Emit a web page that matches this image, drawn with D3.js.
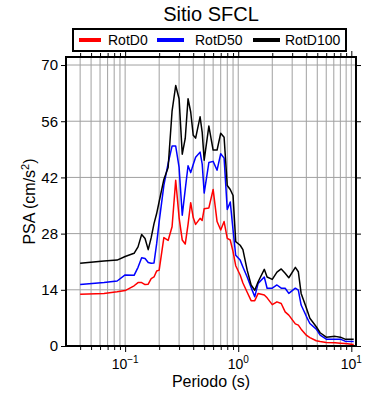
<!DOCTYPE html>
<html><head><meta charset="utf-8">
<script src="https://cdn.jsdelivr.net/npm/d3@7"></script>
<style>body{margin:0;background:#fff}svg{display:block;font-family:"Liberation Sans",Arial,Helvetica,sans-serif}</style>
</head><body><svg id="c" width="390" height="400"></svg>
<script>
const periods = [0.04,0.065,0.085,0.1,0.12,0.13,0.14,0.15,0.16,0.17,0.18,0.19,0.2,0.22,0.24,0.26,0.28,0.3,0.32,0.34,0.36,0.38,0.4,0.42,0.46,0.48,0.5,0.55,0.6,0.65,0.7,0.75,0.8,0.85,0.9,0.95,1.04,1.1,1.2,1.3,1.4,1.5,1.7,1.8,2.0,2.2,2.4,2.6,2.8,3.2,3.4,3.6,4.0,4.3,4.9,5.3,6.0,7.2,8.0,8.8,10.5];
const rotD100 = [20.6,21.2,21.4,22.3,23.1,24.7,27.8,26.8,24.0,27.0,30.5,33.0,36.0,41.5,44.5,58.5,64.9,61.6,47.8,51.7,61.6,58.3,52.5,51.8,57.1,53.3,46.3,54.8,48.8,48.8,53.0,52.0,40.0,39.0,37.5,26.0,25.1,24.0,18.9,15.2,13.9,16.0,19.1,17.2,16.6,18.4,19.2,18.1,17.0,19.6,18.5,13.1,9.5,6.9,4.8,3.3,2.2,2.4,2.2,1.7,1.7];
const rotD50 = [15.3,15.8,16.2,17.7,17.6,19.6,22.0,21.8,20.8,20.6,20.7,25.5,31.0,40.0,45.5,49.8,49.8,44.5,32.6,39.0,44.9,43.2,45.2,47.0,48.3,45.4,38.1,45.7,46.0,43.8,47.9,46.8,34.0,35.9,28.9,22.6,21.4,19.7,17.2,14.6,12.3,15.6,17.2,14.4,14.4,15.2,14.4,14.4,13.1,14.4,13.9,10.2,7.4,5.6,4.2,2.7,1.7,1.7,1.7,1.2,1.1];
const rotD0 = [12.9,13.1,13.5,13.8,15.0,15.8,15.8,15.3,15.4,16.8,17.2,18.7,18.9,27.0,26.3,29.7,41.3,32.0,26.4,25.4,30.3,35.7,32.0,30.3,31.8,31.3,34.2,34.4,39.0,31.0,28.9,31.0,26.8,26.4,23.5,20.0,17.7,15.7,13.4,11.3,11.3,13.1,12.7,12.0,10.3,11.0,10.6,8.5,7.7,5.5,5.2,4.2,2.7,2.1,1.3,1.1,0.9,0.8,0.7,0.6,0.4];
const seriesNames = ["RotD0","RotD50","RotD100"];
const seriesColors = ["#ff0000","#0000ff","#000000"];
const yTicks = [0,14,28,42,56,70];
const xMajor = [0.1,1,10];
const xMajorExp = ["\u22121","0","1"];
const title = "Sitio SFCL";
const xTitle = "Periodo (s)";

const svg = d3.select("#c");
const L=66,R=356,T=57,B=346;
const x = d3.scaleLog().domain([0.03,11]).range([L,R]);
const y = d3.scaleLinear().domain([0,72]).range([B,T]);
const minor = x.ticks().filter(v=>v>0.0301 && v<11);

// grid
const g = svg.append("g");
g.selectAll("line.vx").data(minor).join("line")
 .attr("x1",d=>x(d)).attr("x2",d=>x(d)).attr("y1",T).attr("y2",B)
 .attr("stroke","#a0a0a0").attr("stroke-width",1);
g.selectAll("line.hy").data(yTicks.filter(v=>v>0)).join("line")
 .attr("x1",L).attr("x2",R).attr("y1",d=>y(d)).attr("y2",d=>y(d))
 .attr("stroke","#a0a0a0").attr("stroke-width",1);

// lines
const line = d3.line().x((d,i)=>x(periods[i])).y(d=>y(d));
[rotD0,rotD50,rotD100].forEach((s,k)=>{
  svg.append("path").datum(s).attr("d",line).attr("fill","none")
   .attr("stroke",seriesColors[k]).attr("stroke-width",1.5).attr("stroke-linejoin","round");
});

// axes ticks
function xt(axisFn, yPos){
  const isMaj = d=>xMajor.some(m=>Math.abs(Math.log10(d/m))<1e-6);
  const a = axisFn(x).tickValues(minor).tickFormat("").tickSizeOuter(0).tickSize(4);
  const ga = svg.append("g").attr("transform",`translate(0,${yPos})`).call(a);
  ga.selectAll(".tick line").attr("y2",function(d){const s=isMaj(d)?5:3;return axisFn===d3.axisBottom?s:-s;}).attr("stroke","#000");
  ga.select(".domain").remove();
}
xt(d3.axisBottom,B+1);
xt(d3.axisTop,T-1);
const ya = d3.axisLeft(y).tickValues(yTicks).tickFormat("").tickSize(4).tickSizeOuter(0);
const gy = svg.append("g").attr("transform",`translate(${L-1},0)`).call(ya);
gy.select(".domain").remove();
const yr = d3.axisRight(y).tickValues(yTicks).tickFormat("").tickSize(4).tickSizeOuter(0);
const gyr = svg.append("g").attr("transform",`translate(${R+1},0)`).call(yr);
gyr.select(".domain").remove();

// frame
svg.append("rect").attr("x",L).attr("y",T).attr("width",R-L).attr("height",B-T)
 .attr("fill","none").attr("stroke","#000").attr("stroke-width",2);

// y labels
svg.selectAll("text.yl").data(yTicks).join("text")
 .attr("x",L-8).attr("y",d=>y(d)).attr("dy","0.36em").attr("text-anchor","end")
 .attr("font-size",15).text(d=>d);
// x labels
xMajor.forEach((v,i)=>{
  const t = svg.append("text").attr("x",x(v)).attr("y",369).attr("text-anchor","middle").attr("font-size",14);
  t.append("tspan").text("10");
  t.append("tspan").attr("dy",-6).attr("font-size",10).text(xMajorExp[i]);
});
// titles
svg.append("text").attr("x",(L+R)/2).attr("y",387).attr("text-anchor","middle").attr("font-size",16).text(xTitle);
const yt = svg.append("text").attr("transform",`translate(35,${(T+B)/2}) rotate(-90)`).attr("text-anchor","middle").attr("font-size",16);
yt.append("tspan").text("PSA (cm/s");
yt.append("tspan").attr("dy",-6).attr("font-size",11).text("2");
yt.append("tspan").attr("dy",6).text(")");
svg.append("text").attr("x",(L+R)/2).attr("y",21).attr("text-anchor","middle").attr("font-size",20).text(title);

// legend
svg.append("rect").attr("x",73).attr("y",29).attr("width",273).attr("height",22).attr("fill","#fff").attr("stroke","#000").attr("stroke-width",2);
const legX = [[79,101,108],[157,184,195],[253,280,285]];
seriesNames.forEach((n,k)=>{
  svg.append("line").attr("x1",legX[k][0]).attr("x2",legX[k][1]).attr("y1",40).attr("y2",40).attr("stroke",seriesColors[k]).attr("stroke-width",4);
  svg.append("text").attr("x",legX[k][2]).attr("y",40).attr("dy","0.36em").attr("font-size",14).text(n);
});
</script></body></html>
